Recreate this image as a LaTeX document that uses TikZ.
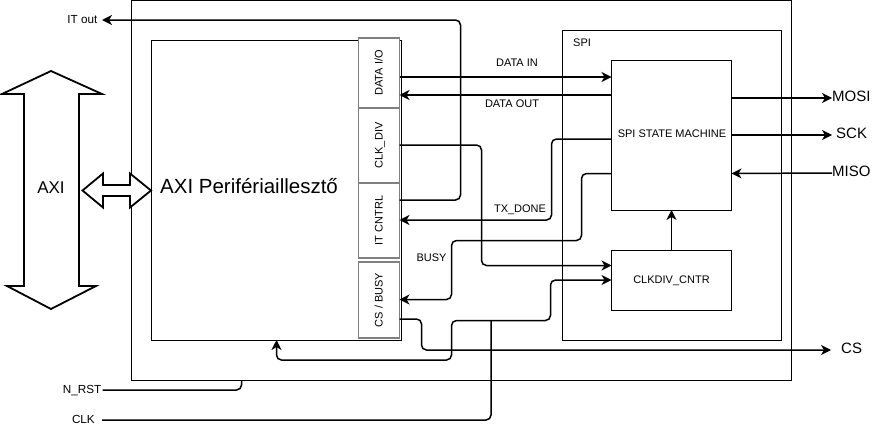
\documentclass[tikz,border=0pt]{standalone}
\usepackage{fontspec}
\setmainfont{Liberation Sans}
\usetikzlibrary{arrows.meta}
\begin{document}
\begin{tikzpicture}[x=1pt,y=-1pt,
  box/.style={draw,line width=1pt,inner sep=0pt,outer sep=0pt,anchor=north west},
  reg/.style={draw=black!50,line width=1.6pt,fill=white,inner sep=0pt,outer sep=0pt,anchor=north west},
  conn/.style={line width=1.5pt,rounded corners=5pt},
  tip/.style={-{Stealth[length=10pt,width=10pt,inset=3pt]}},
  tips/.style={{Stealth[length=10pt,width=10pt,inset=3pt]}-{Stealth[length=10pt,width=10pt,inset=3pt]}},
  lbl/.style={font=\fontsize{11}{13}\selectfont,inner sep=0pt,text height=0.716em,text depth=0pt},
  mid/.style={font=\fontsize{11.7}{14}\selectfont,inner sep=0pt,text height=0.716em,text depth=0pt},
  big/.style={font=\fontsize{15}{18}\selectfont,inner sep=0pt,text height=0.716em,text depth=0pt},
  fat/.style={line width=1.8pt,line join=miter},
]
\useasboundingbox (0,0) rectangle (872,431);

% boxes
\node[box,minimum width=660pt,minimum height=379.5pt] (outer) at (131,0.5) {};
\node[box,minimum width=250pt,minimum height=300pt] (axi) at (151,40) {};
\node[reg,minimum width=41pt,minimum height=70pt] (dataio) at (358.5,38) {};
\node[reg,minimum width=41pt,minimum height=75pt] (clkdiv) at (358.5,108) {};
\node[reg,minimum width=41pt,minimum height=75pt] (itcntrl) at (358.5,183) {};
\node[reg,minimum width=41pt,minimum height=76pt] (csbusy) at (358.5,262) {};
\node[box,minimum width=219.5pt,minimum height=310pt] (spi) at (562,30) {};
\node[box,minimum width=120pt,minimum height=149.5pt] (ssm) at (611.5,60.5) {};
\node[box,minimum width=120pt,minimum height=59.5pt] (cdc) at (611.5,250.5) {};

% box texts
\node[lbl,rotate=90] (dataio-t) at (dataio.center) {DATA I/O};
\node[lbl,rotate=90] (clkdiv-t) at (clkdiv.center) {CLK\_DIV};
\node[lbl,rotate=90] (itcntrl-t) at (itcntrl.center) {IT CNTRL};
\node[lbl,rotate=90] (csbusy-t) at (csbusy.center) {CS / BUSY};
\node[lbl,anchor=west] (spi-t) at (573,43) {SPI};
\node[lbl] (ssm-t) at (672,134) {SPI STATE MACHINE};
\node[lbl] (cdc-t) at (cdc.center) {CLKDIV\_CNTR};
\node[font=\fontsize{20.5}{24}\selectfont,inner sep=0pt,text height=0.716em,text depth=0pt,anchor=west] (axi-t) at (160,190) {AXI Perifériaillesztő};

% outside labels
\node[mid,anchor=east] (itout) at (97.5,20) {IT out};
\node[mid,anchor=east] (nrst) at (101.5,390) {N\_RST};
\node[mid,anchor=east] (clk) at (95,420) {CLK};
\node[big,anchor=west] (mosi) at (832,98) {MOSI};
\node[big,anchor=west] (sck) at (836,135) {SCK};
\node[big,anchor=west] (miso) at (832,173) {MISO};
\node[big,anchor=west] (cs) at (841,350) {CS};
\node[font=\fontsize{17}{20}\selectfont,inner sep=0pt,text height=0.716em,text depth=0pt] (axibus-t) at (51,190) {AXI};

% big AXI arrows
\draw[fat] (51,71) -- (102,94) -- (79,94) -- (79,286) -- (96,286) -- (51,309) -- (7,286) -- (24,286) -- (24,94) -- (2,94) -- cycle;
\draw[fat,fill=white] (82.5,190.5) -- (103,173.5) -- (103,185) -- (130,185) -- (130,173.5) -- (151,190.5) -- (130,207.5) -- (130,196) -- (103,196) -- (103,207.5) -- cycle;

% data connectors
\draw[conn,tip] (dataio.east |- 0,77) -- (ssm.west |- 0,77);
\node[lbl] (datain-t) at (517,63) {DATA IN};
\draw[conn,tip] (ssm.west |- 0,95) -- (dataio.east |- 0,95);
\node[lbl] (dataout-t) at (512,103.5) {DATA OUT};

% IT out
\draw[conn,tip] (itcntrl.east |- 0,200) -- (460.5,200) -- (460.5,20) -- ([xshift=4.5pt]itout.east);

% CLK_DIV
\draw[conn,tip] (clkdiv.east |- 0,145) -- (481.5,145) -- (481.5,265.5) -- (cdc.west |- 0,265.5);

% TX_DONE
\draw[conn,tip] (ssm.west |- 0,139) -- (551.5,139) -- (551.5,220) -- (itcntrl.east |- 0,220);
\node[lbl] (txdone-t) at (520,209) {TX\_DONE};

% BUSY
\draw[conn,tip] (ssm.west |- 0,173.5) -- (581.5,173.5) -- (581.5,240.5) -- (451.5,240.5) -- (451.5,299.5) -- (csbusy.east |- 0,299.5);
\node[lbl] (busy-t) at (431.5,258) {BUSY};

% CS
\draw[conn,tip] (csbusy.east |- 0,319) -- (421.5,319) -- (421.5,350) -- ([xshift=-10pt]cs.west);

% CLK
\draw[conn] ([xshift=7pt]clk.east) -- (491,420) -- (491,320.5);
\draw[conn,tips] (axi.south -| 276.5,0) -- (276.5,360) -- (451.5,360) -- (451.5,320.5) -- (550.5,320.5) -- (550.5,280) -- (cdc.west |- 0,280);

% N_RST
\draw[conn] ([xshift=1pt]nrst.east) -- (241.5,390) -- (outer.south -| 241.5,0);

% SPI outputs
\draw[conn,tip] (ssm.east |- 0,98) -- (mosi.west);
\draw[conn,tip] (ssm.east |- 0,135) -- ([xshift=-4pt]sck.west);
\draw[conn,tip] (miso.west) -- (ssm.east |- 0,173.5);
\draw[conn,tip] (cdc.north) -- (ssm.south);
\end{tikzpicture}
\end{document}
